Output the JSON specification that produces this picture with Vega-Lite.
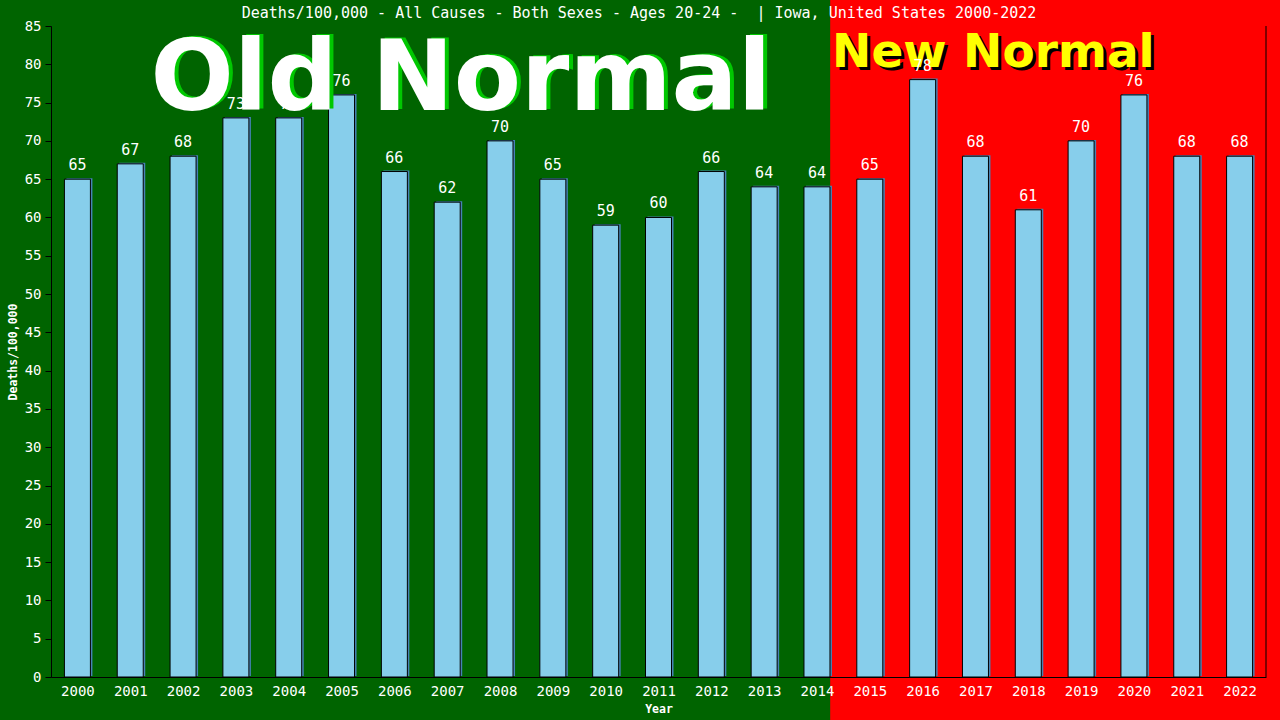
{
  "$schema": "https://vega.github.io/schema/vega-lite/v6.json",
  "width": 1215,
  "height": 651,
  "autosize": {"type": "none"},
  "padding": {"left": 51, "top": 26, "right": 14, "bottom": 43},
  "background": "#006400",
  "title": {
    "text": "Deaths/100,000 - All Causes - Both Sexes - Ages 20-24 -\u00a0 | Iowa, United States 2000-2022",
    "color": "white",
    "font": "DejaVu Sans Mono",
    "fontSize": 15,
    "fontWeight": "normal",
    "anchor": "middle",
    "frame": "group",
    "dx": -19.5,
    "baseline": "alphabetic",
    "offset": -37.6
  },
  "config": {
    "view": {"stroke": null},
    "axis": {
      "domainColor": "black",
      "tickColor": "black",
      "labelColor": "white",
      "labelFont": "DejaVu Sans Mono",
      "labelFontSize": 14,
      "titleColor": "white",
      "titleFont": "DejaVu Sans Mono",
      "titleFontWeight": "bold",
      "titleFontSize": 11.5,
      "grid": false
    }
  },
  "data": {
    "values": [
      {"year": 2000, "deaths": 65},
      {"year": 2001, "deaths": 67},
      {"year": 2002, "deaths": 68},
      {"year": 2003, "deaths": 73},
      {"year": 2004, "deaths": 73},
      {"year": 2005, "deaths": 76},
      {"year": 2006, "deaths": 66},
      {"year": 2007, "deaths": 62},
      {"year": 2008, "deaths": 70},
      {"year": 2009, "deaths": 65},
      {"year": 2010, "deaths": 59},
      {"year": 2011, "deaths": 60},
      {"year": 2012, "deaths": 66},
      {"year": 2013, "deaths": 64},
      {"year": 2014, "deaths": 64},
      {"year": 2015, "deaths": 65},
      {"year": 2016, "deaths": 78},
      {"year": 2017, "deaths": 68},
      {"year": 2018, "deaths": 61},
      {"year": 2019, "deaths": 70},
      {"year": 2020, "deaths": 76},
      {"year": 2021, "deaths": 68},
      {"year": 2022, "deaths": 68}
    ]
  },
  "layer": [
    {
      "data": {"values": [{"era": "New Normal"}]},
      "mark": {"type": "rect", "color": "#ff0000"},
      "encoding": {
        "x": {"datum": 2014.25, "type": "quantitative", "scale": {"domain": [1999.5, 2022.5], "nice": false, "zero": false, "padding": 0},
          "axis": {"values": [2000,2001,2002,2003,2004,2005,2006,2007,2008,2009,2010,2011,2012,2013,2014,2015,2016,2017,2018,2019,2020,2021,2022], "format": "d", "ticks": false, "labelPadding": 7, "labelFlush": false, "labelOverlap": false, "title": "Year", "titleY": 32, "titleBaseline": "middle", "zindex": 1}},
        "x2": {"datum": 2023},
        "y": {"datum": -7, "type": "quantitative", "scale": {"domain": [0, 85], "nice": false, "padding": 0},
          "axis": {"values": [0,5,10,15,20,25,30,35,40,45,50,55,60,65,70,75,80,85], "tickSize": 6, "labelPadding": 4, "labelOverlap": false, "labelFlush": false, "title": "Deaths/100,000", "titleAngle": -90, "titleX": -38, "titleY": 325.5, "titleAlign": "center", "titleBaseline": "middle", "zindex": 1}},
        "y2": {"datum": 89}
      }
    },
    {
      "mark": {"type": "bar", "size": 26, "fill": "#4682b4", "xOffset": 2, "yOffset": -1},
      "encoding": {
        "x": {"field": "year", "type": "quantitative", "scale": {"domain": [1999.5, 2022.5], "nice": false, "zero": false, "padding": 0},
          "axis": {"values": [2000,2001,2002,2003,2004,2005,2006,2007,2008,2009,2010,2011,2012,2013,2014,2015,2016,2017,2018,2019,2020,2021,2022], "format": "d", "ticks": false, "labelPadding": 7, "labelFlush": false, "labelOverlap": false, "title": "Year", "titleY": 32, "titleBaseline": "middle", "zindex": 1}},
        "y": {"field": "deaths", "type": "quantitative", "scale": {"domain": [0, 85], "nice": false, "padding": 0},
          "axis": {"values": [0,5,10,15,20,25,30,35,40,45,50,55,60,65,70,75,80,85], "tickSize": 6, "labelPadding": 4, "labelOverlap": false, "labelFlush": false, "title": "Deaths/100,000", "titleAngle": -90, "titleX": -38, "titleY": 325.5, "titleAlign": "center", "titleBaseline": "middle", "zindex": 1}}
      }
    },
    {
      "mark": {"type": "bar", "size": 26, "fill": "#87ceeb", "stroke": "black", "strokeWidth": 1},
      "encoding": {
        "x": {"field": "year", "type": "quantitative", "scale": {"domain": [1999.5, 2022.5], "nice": false, "zero": false, "padding": 0},
          "axis": {"values": [2000,2001,2002,2003,2004,2005,2006,2007,2008,2009,2010,2011,2012,2013,2014,2015,2016,2017,2018,2019,2020,2021,2022], "format": "d", "ticks": false, "labelPadding": 7, "labelFlush": false, "labelOverlap": false, "title": "Year", "titleY": 32, "titleBaseline": "middle", "zindex": 1}},
        "y": {"field": "deaths", "type": "quantitative", "scale": {"domain": [0, 85], "nice": false, "padding": 0},
          "axis": {"values": [0,5,10,15,20,25,30,35,40,45,50,55,60,65,70,75,80,85], "tickSize": 6, "labelPadding": 4, "labelOverlap": false, "labelFlush": false, "title": "Deaths/100,000", "titleAngle": -90, "titleX": -38, "titleY": 325.5, "titleAlign": "center", "titleBaseline": "middle", "zindex": 1}}
      }
    },
    {
      "data": {"values": [{"edge": "right"}]},
      "mark": {"type": "rule", "color": "black", "strokeWidth": 1},
      "encoding": {
        "x": {"datum": 2022.5, "type": "quantitative", "scale": {"domain": [1999.5, 2022.5], "nice": false, "zero": false, "padding": 0},
          "axis": {"values": [2000,2001,2002,2003,2004,2005,2006,2007,2008,2009,2010,2011,2012,2013,2014,2015,2016,2017,2018,2019,2020,2021,2022], "format": "d", "ticks": false, "labelPadding": 7, "labelFlush": false, "labelOverlap": false, "title": "Year", "titleY": 32, "titleBaseline": "middle", "zindex": 1}}
      }
    },
    {
      "data": {"values": [{"label": "Old Normal"}]},
      "mark": {"type": "text", "font": "DejaVu Sans", "fontWeight": "bold", "fontSize": 98, "color": "#00c800", "align": "center", "baseline": "alphabetic", "dx": 4, "dy": -1},
      "encoding": {
        "text": {"field": "label"},
        "x": {"datum": 2007.26, "type": "quantitative", "scale": {"domain": [1999.5, 2022.5], "nice": false, "zero": false, "padding": 0},
          "axis": {"values": [2000,2001,2002,2003,2004,2005,2006,2007,2008,2009,2010,2011,2012,2013,2014,2015,2016,2017,2018,2019,2020,2021,2022], "format": "d", "ticks": false, "labelPadding": 7, "labelFlush": false, "labelOverlap": false, "title": "Year", "titleY": 32, "titleBaseline": "middle", "zindex": 1}},
        "y": {"datum": 74.0, "type": "quantitative", "scale": {"domain": [0, 85], "nice": false, "padding": 0},
          "axis": {"values": [0,5,10,15,20,25,30,35,40,45,50,55,60,65,70,75,80,85], "tickSize": 6, "labelPadding": 4, "labelOverlap": false, "labelFlush": false, "title": "Deaths/100,000", "titleAngle": -90, "titleX": -38, "titleY": 325.5, "titleAlign": "center", "titleBaseline": "middle", "zindex": 1}}
      }
    },
    {
      "data": {"values": [{"label": "Old Normal"}]},
      "mark": {"type": "text", "font": "DejaVu Sans", "fontWeight": "bold", "fontSize": 98, "color": "white", "align": "center", "baseline": "alphabetic"},
      "encoding": {
        "text": {"field": "label"},
        "x": {"datum": 2007.26, "type": "quantitative", "scale": {"domain": [1999.5, 2022.5], "nice": false, "zero": false, "padding": 0},
          "axis": {"values": [2000,2001,2002,2003,2004,2005,2006,2007,2008,2009,2010,2011,2012,2013,2014,2015,2016,2017,2018,2019,2020,2021,2022], "format": "d", "ticks": false, "labelPadding": 7, "labelFlush": false, "labelOverlap": false, "title": "Year", "titleY": 32, "titleBaseline": "middle", "zindex": 1}},
        "y": {"datum": 74.0, "type": "quantitative", "scale": {"domain": [0, 85], "nice": false, "padding": 0},
          "axis": {"values": [0,5,10,15,20,25,30,35,40,45,50,55,60,65,70,75,80,85], "tickSize": 6, "labelPadding": 4, "labelOverlap": false, "labelFlush": false, "title": "Deaths/100,000", "titleAngle": -90, "titleX": -38, "titleY": 325.5, "titleAlign": "center", "titleBaseline": "middle", "zindex": 1}}
      }
    },
    {
      "data": {"values": [{"label": "New Normal"}]},
      "mark": {"type": "text", "font": "DejaVu Sans", "fontWeight": "bold", "fontSize": 47, "color": "black", "align": "center", "baseline": "alphabetic", "dx": 3, "dy": 3},
      "encoding": {
        "text": {"field": "label"},
        "x": {"datum": 2017.34, "type": "quantitative", "scale": {"domain": [1999.5, 2022.5], "nice": false, "zero": false, "padding": 0},
          "axis": {"values": [2000,2001,2002,2003,2004,2005,2006,2007,2008,2009,2010,2011,2012,2013,2014,2015,2016,2017,2018,2019,2020,2021,2022], "format": "d", "ticks": false, "labelPadding": 7, "labelFlush": false, "labelOverlap": false, "title": "Year", "titleY": 32, "titleBaseline": "middle", "zindex": 1}},
        "y": {"datum": 79.65, "type": "quantitative", "scale": {"domain": [0, 85], "nice": false, "padding": 0},
          "axis": {"values": [0,5,10,15,20,25,30,35,40,45,50,55,60,65,70,75,80,85], "tickSize": 6, "labelPadding": 4, "labelOverlap": false, "labelFlush": false, "title": "Deaths/100,000", "titleAngle": -90, "titleX": -38, "titleY": 325.5, "titleAlign": "center", "titleBaseline": "middle", "zindex": 1}}
      }
    },
    {
      "data": {"values": [{"label": "New Normal"}]},
      "mark": {"type": "text", "font": "DejaVu Sans", "fontWeight": "bold", "fontSize": 47, "color": "#ffff00", "align": "center", "baseline": "alphabetic"},
      "encoding": {
        "text": {"field": "label"},
        "x": {"datum": 2017.34, "type": "quantitative", "scale": {"domain": [1999.5, 2022.5], "nice": false, "zero": false, "padding": 0},
          "axis": {"values": [2000,2001,2002,2003,2004,2005,2006,2007,2008,2009,2010,2011,2012,2013,2014,2015,2016,2017,2018,2019,2020,2021,2022], "format": "d", "ticks": false, "labelPadding": 7, "labelFlush": false, "labelOverlap": false, "title": "Year", "titleY": 32, "titleBaseline": "middle", "zindex": 1}},
        "y": {"datum": 79.65, "type": "quantitative", "scale": {"domain": [0, 85], "nice": false, "padding": 0},
          "axis": {"values": [0,5,10,15,20,25,30,35,40,45,50,55,60,65,70,75,80,85], "tickSize": 6, "labelPadding": 4, "labelOverlap": false, "labelFlush": false, "title": "Deaths/100,000", "titleAngle": -90, "titleX": -38, "titleY": 325.5, "titleAlign": "center", "titleBaseline": "middle", "zindex": 1}}
      }
    },
    {
      "mark": {"type": "text", "color": "white", "font": "DejaVu Sans Mono", "fontSize": 15, "baseline": "alphabetic", "dy": -9},
      "encoding": {
        "text": {"field": "deaths", "type": "quantitative"},
        "x": {"field": "year", "type": "quantitative", "scale": {"domain": [1999.5, 2022.5], "nice": false, "zero": false, "padding": 0},
          "axis": {"values": [2000,2001,2002,2003,2004,2005,2006,2007,2008,2009,2010,2011,2012,2013,2014,2015,2016,2017,2018,2019,2020,2021,2022], "format": "d", "ticks": false, "labelPadding": 7, "labelFlush": false, "labelOverlap": false, "title": "Year", "titleY": 32, "titleBaseline": "middle", "zindex": 1}},
        "y": {"field": "deaths", "type": "quantitative", "scale": {"domain": [0, 85], "nice": false, "padding": 0},
          "axis": {"values": [0,5,10,15,20,25,30,35,40,45,50,55,60,65,70,75,80,85], "tickSize": 6, "labelPadding": 4, "labelOverlap": false, "labelFlush": false, "title": "Deaths/100,000", "titleAngle": -90, "titleX": -38, "titleY": 325.5, "titleAlign": "center", "titleBaseline": "middle", "zindex": 1}}
      }
    }
  ]
}
